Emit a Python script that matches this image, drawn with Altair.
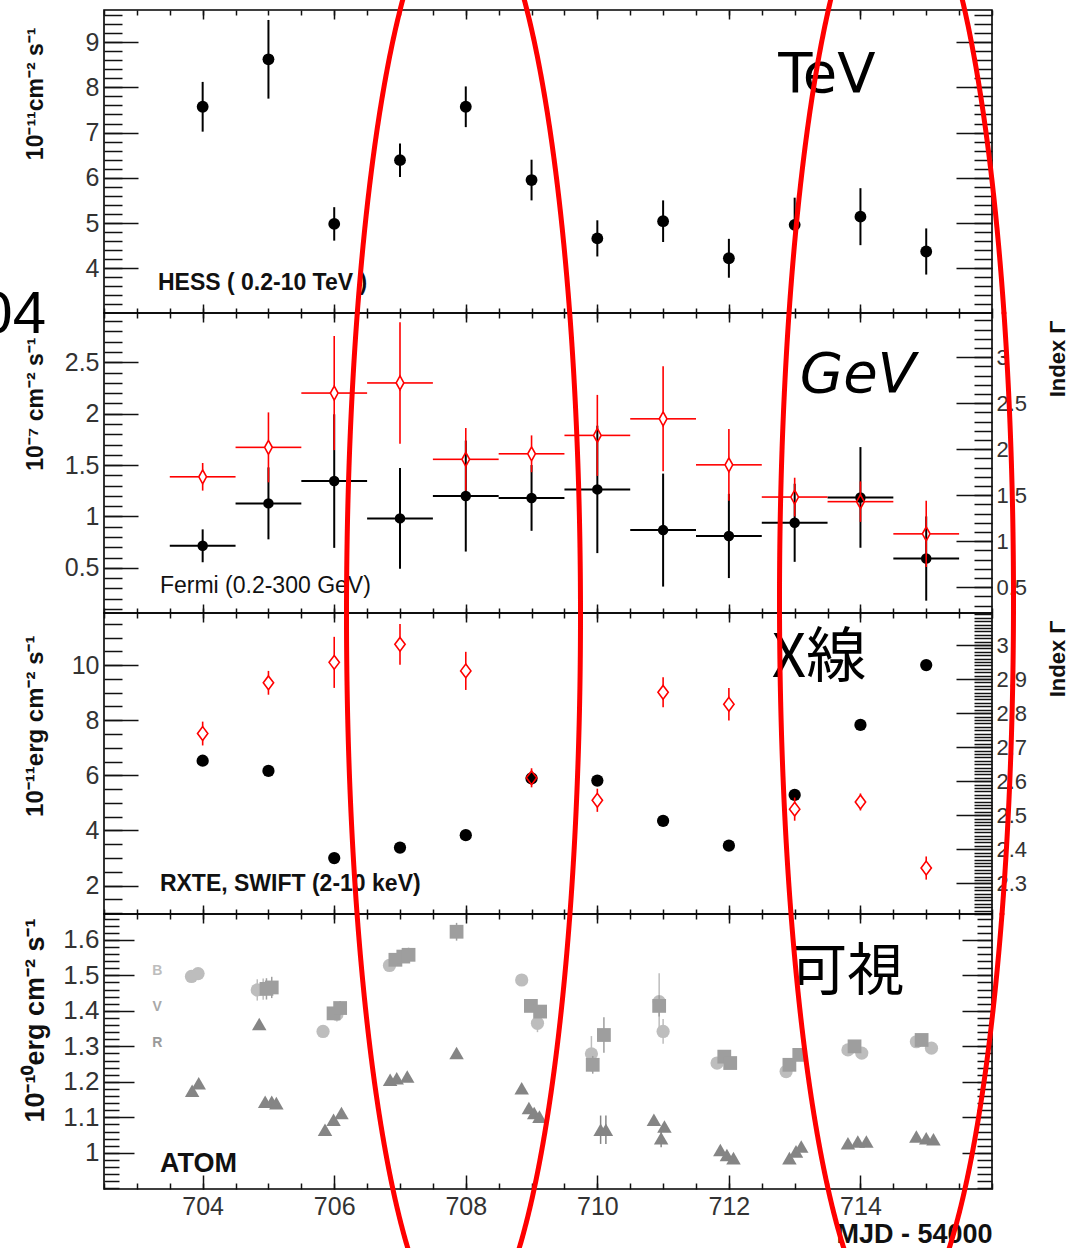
import numpy as np
import pandas as pd
import altair as alt

FONT = "Liberation Sans"
RED = "#ff0000"

# ------------------------------------------------------------------ data
days = list(range(704, 716))  # MJD - 54000, one bin per night

hess_flux = [7.57, 8.62, 4.98, 6.39, 7.57, 5.95, 4.66, 5.04, 4.22, 4.96, 5.14, 4.37]
hess_err = [0.55, 0.87, 0.37, 0.37, 0.45, 0.45, 0.40, 0.46, 0.43, 0.60, 0.63, 0.51]

fermi_flux = [0.714, 1.127, 1.344, 0.981, 1.198, 1.180, 1.263, 0.867, 0.810, 0.938, 1.185, 0.590]
fermi_err = [0.16, 0.35, 0.65, 0.49, 0.54, 0.32, 0.62, 0.55, 0.41, 0.38, 0.49, 0.41]
fermi_index = [1.70, 2.02, 2.61, 2.72, 1.89, 1.95, 2.15, 2.33, 1.83, 1.48, 1.43, 1.08]
fermi_index_err = [0.15, 0.38, 0.62, 0.66, 0.34, 0.20, 0.44, 0.57, 0.39, 0.21, 0.22, 0.36]
fermi_half_bin = 0.5

xray_flux = [6.53, 6.16, 3.00, 3.38, 3.83, 5.89, 5.81, 4.35, 3.45, 5.29, 7.83, 10.00]
xray_index = [2.740, 2.889, 2.949, 3.002, 2.924, 2.610, 2.544, 2.861, 2.826, 2.518, 2.539, 2.345]
xray_index_err = [0.035, 0.035, 0.075, 0.060, 0.056, 0.028, 0.034, 0.044, 0.048, 0.034, 0.025, 0.034]

atom_b_mjd = [703.83, 703.93, 704.83, 704.92, 705.83, 706.04, 706.84, 708.85, 709.09,
              709.91, 710.94, 711.00, 711.82, 712.87, 713.81, 714.02, 714.85, 715.08]
atom_b_flux = [1.497, 1.505, 1.459, 1.461, 1.342, 1.390, 1.528, 1.487, 1.365,
               1.279, 1.426, 1.342, 1.253, 1.229, 1.290, 1.281, 1.313, 1.295]
atom_b_err = [0.01, 0.01, 0.03, 0.03, 0.01, 0.02, 0.015, 0.015, 0.025,
              0.05, 0.08, 0.035, 0.015, 0.015, 0.01, 0.015, 0.01, 0.01]

atom_v_mjd = [704.97, 705.05, 705.99, 706.09, 706.93, 707.05, 707.13, 707.86, 708.99, 709.13,
              709.93, 710.10, 710.94, 711.93, 712.02, 712.92, 713.07, 713.91, 714.93]
atom_v_flux = [1.462, 1.466, 1.393, 1.408, 1.544, 1.553, 1.558, 1.623, 1.414, 1.398,
               1.248, 1.332, 1.414, 1.271, 1.253, 1.248, 1.276, 1.300, 1.318]
atom_v_err = [0.03, 0.03, 0.015, 0.02, 0.015, 0.015, 0.02, 0.025, 0.015, 0.015,
              0.025, 0.05, 0.03, 0.015, 0.01, 0.015, 0.015, 0.01, 0.01]

atom_r_mjd = [703.84, 703.94, 704.86, 704.95, 705.05, 705.12, 705.86, 705.99, 706.11,
              706.85, 706.95, 707.11, 707.86, 708.85, 708.96, 709.04, 709.12, 710.05,
              710.13, 710.86, 710.97, 711.02, 711.87, 711.97, 712.07, 712.92, 713.02,
              713.10, 713.81, 713.96, 714.09, 714.85, 715.00, 715.11]
atom_r_flux = [1.175, 1.196, 1.363, 1.144, 1.144, 1.140, 1.065, 1.093, 1.112,
               1.206, 1.210, 1.215, 1.281, 1.182, 1.126, 1.112, 1.102, 1.065,
               1.065, 1.093, 1.041, 1.074, 1.008, 0.994, 0.985, 0.985, 1.004,
               1.018, 1.027, 1.032, 1.032, 1.046, 1.041, 1.038]
atom_r_err = [0.01] * 17 + [0.04, 0.04, 0.01, 0.025] + [0.01] * 13

# ------------------------------------------------------------------ layout
PAGE_W, PAGE_H = 1084, 1248
LEFT, TOP = 104, 10          # page position of the upper-left frame corner
W = 888                      # frame width shared by the four panels
X_DOM = [702.5, 716.0]
PX_PER_DAY = W / (X_DOM[1] - X_DOM[0])


def ticks(lo, hi, step):
    n = int(round((hi - lo) / step))
    return [round(lo + step * i, 4) for i in range(n + 1)]


X_MAJOR = ticks(704, 714, 2)
X_MINOR = ticks(702.5, 716.0, 0.5)

PANELS = [
    dict(h=303, dom=[3.01, 9.71], major=ticks(4, 9, 1), minor=ticks(3.2, 9.6, 0.2),
         title="10⁻¹¹cm⁻² s⁻¹", tsize=23, tend=17, lab=25, llen=(34, 18), rlen=(36, 18)),
    dict(h=300, dom=[0.06, 2.98], major=ticks(0.5, 2.5, 0.5), minor=ticks(0.1, 2.9, 0.1),
         rdom=[0.22, 3.48], rmajor=ticks(0.5, 3.0, 0.5), rminor=ticks(0.3, 3.4, 0.1),
         title="10⁻⁷ cm⁻² s⁻¹", tsize=23, tend=24, lab=25, llen=(34, 18), rlen=(36, 18)),
    dict(h=301, dom=[0.97, 11.89], major=ticks(2, 10, 2), minor=ticks(1.0, 11.5, 0.5),
         rdom=[2.21, 3.094], rmajor=ticks(2.3, 3.0, 0.1), rminor=ticks(2.21, 3.09, 0.01),
         title="10⁻¹¹erg cm⁻² s⁻¹", tsize=24, tend=22, lab=25, llen=(34, 18), rlen=(36, 18)),
    dict(h=275, dom=[0.898, 1.673], major=ticks(1.0, 1.6, 0.1), minor=ticks(0.9, 1.66, 0.02),
         title="10⁻¹⁰erg cm⁻² s⁻¹", tsize=27, tend=4, lab=26, llen=(30, 15), rlen=(30, 15)),
]
top = TOP
for p in PANELS:
    p["top"] = top
    top += p["h"]
    if "rdom" not in p:  # mirrored ticks on the right-hand frame
        p.update(rdom=p["dom"], rmajor=p["major"], rminor=p["minor"], rlabels=False)
    else:
        p["rlabels"] = True

AX = dict(domain=False, grid=False, tickColor="#111111", tickWidth=1.5,
          labelFont=FONT, labelColor="#333333", labelFlush=False,
          labelOverlap=False, labelBound=False, format="~r")


def qx(field):
    return alt.X(field, type="quantitative",
                 scale=alt.Scale(domain=X_DOM, nice=False, zero=False), axis=None)


def qy(field, dom):
    return alt.Y(field, type="quantitative",
                 scale=alt.Scale(domain=dom, nice=False, zero=False), axis=None)


def carrier(xaxis, yaxis, ydom):
    df = pd.DataFrame({"x": [X_DOM[0]], "y": [ydom[0]]})
    return alt.Chart(df).mark_point(opacity=0).encode(
        x=alt.X("x", type="quantitative",
                scale=alt.Scale(domain=X_DOM, nice=False, zero=False), axis=xaxis),
        y=alt.Y("y", type="quantitative",
                scale=alt.Scale(domain=ydom, nice=False, zero=False), axis=yaxis),
    )


def frame_layers(p, last):
    """ROOT-style frame: inward ticks on all four sides."""
    lM, lm = p["llen"]
    rM, rm = p["rlen"]
    xbM, xbm = (14, 6) if last else (9, 5)
    bottom_kw = dict(labels=False, title=None)
    if last:
        bottom_kw = dict(labels=True, labelFontSize=25, labelPadding=5,
                         title="MJD - 54000", titleFont=FONT, titleFontSize=27,
                         titleFontWeight="bold", titleColor="#111111",
                         titleAlign="right", titleAnchor="end", titleX=W,
                         titleY=67, titleBaseline="alphabetic")
    x_bottom = alt.Axis(orient="bottom", values=X_MAJOR, tickSize=xbM, offset=-xbM, **bottom_kw, **AX)
    x_bottom_minor = alt.Axis(orient="bottom", values=X_MINOR, tickSize=xbm, offset=-xbm,
                              labels=False, title=None, **AX)
    x_top = alt.Axis(orient="top", values=X_MAJOR, tickSize=9, offset=-9, labels=False, title=None, **AX)
    x_top_minor = alt.Axis(orient="top", values=X_MINOR, tickSize=5, offset=-5,
                           labels=False, title=None, **AX)

    y_left = alt.Axis(orient="left", values=p["major"], tickSize=lM, offset=-lM,
                      labels=True, labelFontSize=p["lab"], labelPadding=5,
                      title=p["title"], titleFont=FONT, titleFontSize=p["tsize"],
                      titleFontWeight="bold", titleColor="#111111", titleAngle=270,
                      titleAlign="right", titleBaseline="middle",
                      titleX=35 - LEFT - lM, titleY=p["tend"], **AX)
    y_left_minor = alt.Axis(orient="left", values=p["minor"], tickSize=lm, offset=-lm,
                            labels=False, title=None, **AX)
    right_kw = dict(labels=False, title=None)
    if p["rlabels"]:
        right_kw = dict(labels=True, labelFontSize=22, labelPadding=4,
                        title="Index Γ", titleFont=FONT, titleFontSize=22,
                        titleFontWeight="bold", titleColor="#111111", titleAngle=270,
                        titleAlign="right", titleBaseline="middle",
                        titleX=1057 - (LEFT + W - rM), titleY=7)
    y_right = alt.Axis(orient="right", values=p["rmajor"], tickSize=rM, offset=-rM, **right_kw, **AX)
    y_right_minor = alt.Axis(orient="right", values=p["rminor"], tickSize=rm, offset=-rm,
                             labels=False, title=None, **AX)
    return [
        carrier(x_bottom, y_left, p["dom"]),
        carrier(x_bottom_minor, y_left_minor, p["dom"]),
        carrier(x_top, y_right, p["rdom"]),
        carrier(x_top_minor, y_right_minor, p["rdom"]),
    ]


# two hand-drawn loops (page pixels: centre and semi-axes)
LOOPS = [dict(cx=463.5, cy=615.0, a=117.0, b=720.0),
         dict(cx=896.5, cy=600.0, a=117.0, b=726.0)]


def loop_layer(p, y0, y1):
    rows = []
    for k, e in enumerate(LOOPS):
        py = np.linspace(y0, y1, 160)
        half = e["a"] * np.sqrt(np.clip(1 - ((py - e["cy"]) / e["b"]) ** 2, 0, None))
        for side, sgn in (("L", -1), ("R", 1)):
            px = e["cx"] + sgn * half
            for i, (u, v) in enumerate(zip(px, py)):
                rows.append(dict(
                    arc=f"{k}{side}", i=i,
                    x=X_DOM[0] + (u - LEFT) / PX_PER_DAY,
                    y=p["dom"][1] - (v - p["top"]) / p["h"] * (p["dom"][1] - p["dom"][0]),
                ))
    return alt.Chart(pd.DataFrame(rows)).mark_line(
        color=RED, strokeWidth=5, clip=False, strokeCap="round"
    ).encode(x=qx("x"), y=qy("y", p["dom"]), detail="arc:N", order="i:Q")


def text_layer(df, dom, **style):
    return alt.Chart(df).mark_text(clip=False, **style).encode(
        x=qx("x"), y=qy("y", dom), text="label:N")


def note(label, x, y):
    return pd.DataFrame({"label": [label], "x": [x], "y": [y]})


def split_whiskers(t, v, e, gap):
    """vertical error bars interrupted by a hollow marker"""
    return pd.DataFrame({
        "t": t,
        "a1": [vi + gap for vi in v], "a2": [vi + max(ei, gap) for vi, ei in zip(v, e)],
        "b1": [vi - gap for vi in v], "b2": [vi - max(ei, gap) for vi, ei in zip(v, e)],
    })


def whisker_layers(df, dom, color, width):
    out = []
    for a, b in (("a1", "a2"), ("b1", "b2")):
        out.append(alt.Chart(df).mark_rule(color=color, strokeWidth=width).encode(
            x=qx("t"), y=qy(a, dom), y2=alt.Y2(b)))
    return out


def diamond(ratio):
    return f"M0,-1L{ratio},0L0,1L-{ratio},0Z"


def finish(p, layers):
    return alt.layer(*layers).resolve_scale(x="independent", y="independent").properties(
        width=W, height=p["h"])


# ------------------------------------------------------------------ HESS
p = PANELS[0]
hess = pd.DataFrame({"t": days, "f": hess_flux,
                     "lo": [f - e for f, e in zip(hess_flux, hess_err)],
                     "hi": [f + e for f, e in zip(hess_flux, hess_err)]})
hess_panel = finish(p, frame_layers(p, False) + [
    alt.Chart(hess).mark_rule(color="black", strokeWidth=2).encode(
        x=qx("t"), y=qy("lo", p["dom"]), y2=alt.Y2("hi")),
    alt.Chart(hess).mark_circle(size=140, color="black", opacity=1).encode(
        x=qx("t"), y=qy("f", p["dom"])),
    text_layer(note("HESS ( 0.2-10 TeV )", 703.32, 3.525), p["dom"], font=FONT,
               fontSize=23, fontWeight="bold", align="left", baseline="alphabetic",
               color="#111111"),
    text_layer(note("TeV", 713.49, 7.90), p["dom"], font="DejaVu Sans", fontSize=56,
               align="center", baseline="alphabetic", color="black"),
    loop_layer(p, 0, p["top"] + p["h"]),
])

# ------------------------------------------------------------------ Fermi
p = PANELS[1]
gx = 4 / PX_PER_DAY
gy = 7 * (p["rdom"][1] - p["rdom"][0]) / p["h"]
fermi = pd.DataFrame({
    "t": days, "f": fermi_flux,
    "lo": [f - e for f, e in zip(fermi_flux, fermi_err)],
    "hi": [f + e for f, e in zip(fermi_flux, fermi_err)],
    "t0": [t - fermi_half_bin for t in days], "t1": [t + fermi_half_bin for t in days],
    "g0": [t - gx for t in days], "g1": [t + gx for t in days],
    "idx": fermi_index,
})
fermi_red = split_whiskers(days, fermi_index, fermi_index_err, gy)
fermi_panel = finish(p, frame_layers(p, False) + [
    alt.Chart(fermi).mark_rule(color="black", strokeWidth=2).encode(
        x=qx("t"), y=qy("lo", p["dom"]), y2=alt.Y2("hi")),
    alt.Chart(fermi).mark_rule(color="black", strokeWidth=2).encode(
        x=qx("t0"), x2=alt.X2("t1"), y=qy("f", p["dom"])),
    alt.Chart(fermi).mark_circle(size=110, color="black", opacity=1).encode(
        x=qx("t"), y=qy("f", p["dom"])),
    *whisker_layers(fermi_red, p["rdom"], RED, 1.6),
    alt.Chart(fermi).mark_rule(color=RED, strokeWidth=1.6).encode(
        x=qx("t0"), x2=alt.X2("g0"), y=qy("idx", p["rdom"])),
    alt.Chart(fermi).mark_rule(color=RED, strokeWidth=1.6).encode(
        x=qx("g1"), x2=alt.X2("t1"), y=qy("idx", p["rdom"])),
    alt.Chart(fermi).mark_point(shape=diamond(0.55), size=196, filled=False, color=RED,
                                strokeWidth=1.6, opacity=1).encode(
        x=qx("t"), y=qy("idx", p["rdom"])),
    text_layer(note("Fermi (0.2-300 GeV)", 703.35, 0.251), p["dom"], font=FONT,
               fontSize=23, align="left", baseline="alphabetic", color="#111111"),
    text_layer(note("GeV", 713.96, 2.214), p["dom"], font="DejaVu Sans", fontSize=56,
               fontStyle="italic", align="center", baseline="alphabetic", color="black"),
    text_layer(note("04", 701.62, 2.785), p["dom"], font=FONT, fontSize=60,
               align="right", baseline="alphabetic", color="black"),
    loop_layer(p, p["top"], p["top"] + p["h"]),
])

# ------------------------------------------------------------------ X-ray
p = PANELS[2]
gy = 6.5 * (p["rdom"][1] - p["rdom"][0]) / p["h"]
xray = pd.DataFrame({"t": days, "f": xray_flux, "idx": xray_index})
xray_red = split_whiskers(days, xray_index, xray_index_err, gy)
xray_panel = finish(p, frame_layers(p, False) + [
    alt.Chart(xray).mark_circle(size=150, color="black", opacity=1).encode(
        x=qx("t"), y=qy("f", p["dom"])),
    *whisker_layers(xray_red, p["rdom"], RED, 1.6),
    alt.Chart(xray).mark_point(shape=diamond(0.75), size=190, filled=False, color=RED,
                               strokeWidth=1.6, opacity=1).encode(
        x=qx("t"), y=qy("idx", p["rdom"])),
    text_layer(note("RXTE, SWIFT (2-10 keV)", 703.35, 1.789), p["dom"], font=FONT,
               fontSize=23, fontWeight="bold", align="left", baseline="alphabetic",
               color="#111111"),
    text_layer(note("X線", 713.37, 9.57), p["dom"], font="Noto Sans CJK JP", fontSize=60,
               align="center", baseline="alphabetic", color="black"),
    loop_layer(p, p["top"], p["top"] + p["h"]),
])

# ------------------------------------------------------------------ ATOM
p = PANELS[3]
ATOM_STYLE = [("B", atom_b_mjd, atom_b_flux, atom_b_err, "circle", 175, "#bdbdbd"),
              ("V", atom_v_mjd, atom_v_flux, atom_v_err, "square", 190, "#9e9e9e"),
              ("R", atom_r_mjd, atom_r_flux, atom_r_err, "triangle-up", 210, "#858585")]
atom_layers = []
for band, t, f, e, shape, size, col in ATOM_STYLE:
    df = pd.DataFrame({"t": t, "f": f,
                       "lo": [a - b for a, b in zip(f, e)],
                       "hi": [a + b for a, b in zip(f, e)]})
    atom_layers.append(alt.Chart(df).mark_rule(color=col, strokeWidth=1.5).encode(
        x=qx("t"), y=qy("lo", p["dom"]), y2=alt.Y2("hi")))
    atom_layers.append(alt.Chart(df).mark_point(shape=shape, size=size, filled=True,
                                                color=col, opacity=1).encode(
        x=qx("t"), y=qy("f", p["dom"])))
band_labels = pd.DataFrame({"label": ["B", "V", "R"], "x": [703.31] * 3,
                            "y": [1.501, 1.399, 1.298]})
atom_panel = finish(p, frame_layers(p, True) + atom_layers + [
    alt.Chart(band_labels).mark_text(clip=False, font=FONT, fontSize=14, fontWeight="bold",
                                     align="center", baseline="alphabetic").encode(
        x=qx("x"), y=qy("y", p["dom"]), text="label:N",
        color=alt.Color("label:N", scale=alt.Scale(domain=["B", "V", "R"],
                                                   range=["#bdbdbd", "#a8a8a8", "#9a9a9a"]),
                        legend=None)),
    text_layer(note("ATOM", 703.35, 0.946), p["dom"], font=FONT, fontSize=27,
               fontWeight="bold", align="left", baseline="alphabetic", color="#111111"),
    text_layer(note("可視", 713.80, 1.4586), p["dom"], font="Noto Sans CJK JP", fontSize=57,
               align="center", baseline="alphabetic", color="black"),
    loop_layer(p, p["top"], PAGE_H),
])

# the view keeps the shared frame width; padding fills the rest of the page
chart = alt.vconcat(hess_panel, fermi_panel, xray_panel, atom_panel,
                    spacing=0, bounds="flush").properties(
    autosize=alt.AutoSizeParams(type="none"),
    padding={"left": LEFT, "top": TOP, "right": PAGE_W - LEFT - W, "bottom": PAGE_H - TOP},
    background="white",
).configure_view(stroke="black", strokeWidth=1.6)

chart.save("out.html", embed_options={"renderer": "svg", "actions": False})
